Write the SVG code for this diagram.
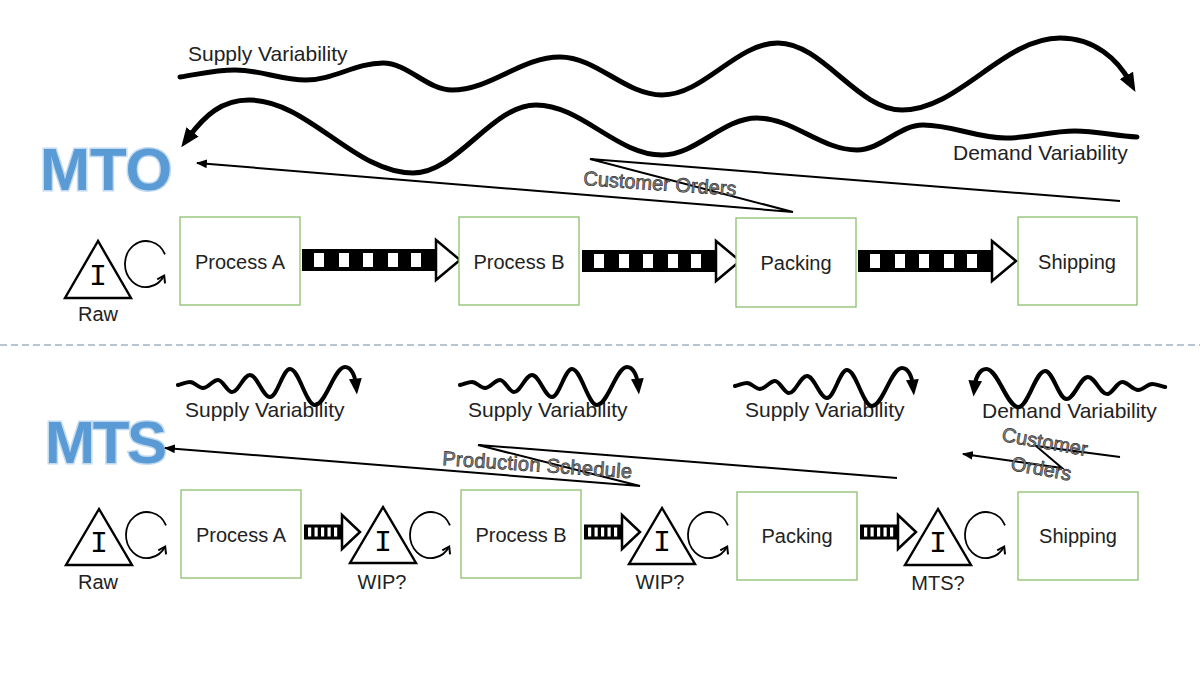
<svg xmlns="http://www.w3.org/2000/svg" width="1200" height="675" viewBox="0 0 1200 675">
<style>
.box{fill:#fff;stroke:#8cbf6e;stroke-width:1.3}
.lbl{font-family:"Liberation Sans",Arial,sans-serif;font-size:20px;fill:#222}
.var{font-family:"Liberation Sans",Arial,sans-serif;font-size:21px;fill:#222}
.mid{text-anchor:middle}
.inv{fill:#fff;stroke:#000;stroke-width:2.4;stroke-linejoin:miter}
.imark{font-family:"Liberation Mono","DejaVu Sans Mono",monospace;font-size:30px;text-anchor:middle;fill:#000}
.loop{fill:none;stroke:#000;stroke-width:1.8;marker-end:url(#chev)}
.wave5{fill:none;stroke:#000;stroke-width:5;stroke-linecap:round;marker-end:url(#wh5)}
.wave4{fill:none;stroke:#000;stroke-width:4;stroke-linecap:round;marker-end:url(#wh4)}
.conn{fill:none;stroke:#000;stroke-width:2;marker-end:url(#lh)}
.ghost{font-family:"Liberation Sans",Arial,sans-serif;font-size:20px;fill:#8a8a8a;stroke:#333;stroke-width:0.7}
.title{font-family:"Liberation Sans",Arial,sans-serif;font-weight:bold;font-size:60px;fill:#5b9bd5;stroke:#c2dbf1;stroke-width:3;paint-order:stroke}
</style>
<defs>
<marker id="wh5" markerUnits="userSpaceOnUse" markerWidth="19" markerHeight="19" viewBox="0 0 10 10" refX="4" refY="5" orient="auto"><path d="M0,1 L10,5 L0,9 z" fill="#000"/></marker>
<marker id="wh4" markerUnits="userSpaceOnUse" markerWidth="16" markerHeight="16" viewBox="0 0 10 10" refX="4" refY="5" orient="auto"><path d="M0,1 L10,5 L0,9 z" fill="#000"/></marker>
<marker id="lh" markerUnits="userSpaceOnUse" markerWidth="11" markerHeight="9" viewBox="0 0 10 8" refX="9" refY="4" orient="auto"><path d="M0,0 L10,4 L0,8 z" fill="#000"/></marker>
<marker id="chev" markerUnits="userSpaceOnUse" markerWidth="11" markerHeight="11" viewBox="0 0 10 10" refX="8" refY="5" orient="auto"><path d="M2,1 L8,5 L2,9" fill="none" stroke="#000" stroke-width="1.8"/></marker>
<g id="bigArrow">
<polygon points="134,-11 134,-20 158,0 134,20 134,11" fill="#fff" stroke="#000" stroke-width="2.5"/>
<rect x="0" y="-11" width="135" height="22" fill="#000"/>
<rect x="12" y="-7" width="10" height="14" fill="#fff"/>
<rect x="37" y="-7" width="10" height="14" fill="#fff"/>
<rect x="61" y="-7" width="10" height="14" fill="#fff"/>
<rect x="86" y="-7" width="10" height="14" fill="#fff"/>
<rect x="109" y="-7" width="10" height="14" fill="#fff"/>
</g>
<g id="smallArrow">
<polygon points="38,-7.5 38,-17 56,0 38,17 38,7.5" fill="#fff" stroke="#000" stroke-width="2.5"/>
<rect x="0" y="-7.5" width="39" height="15" fill="#000"/>
<rect x="4" y="-4.5" width="3.2" height="9" fill="#fff"/>
<rect x="10.5" y="-4.5" width="3.2" height="9" fill="#fff"/>
<rect x="17" y="-4.5" width="3.2" height="9" fill="#fff"/>
<rect x="23.5" y="-4.5" width="3.2" height="9" fill="#fff"/>
<rect x="30" y="-4.5" width="3.2" height="9" fill="#fff"/>
</g>
<path id="smallWave" d="M0,0 C5,-1 8,-3 12,-3 C16.7,-3 20.3,3 25,3 C30.4,3 34.6,-5 40,-5 C45,-5 49,7 54,7 C60.5,7 65.5,-10 72,-10 C79.2,-10 84.8,12 92,12 C99.2,12 104.8,-16 112,-16 C121,-16 128,20 137,20 C147.8,20 156.2,-18 167,-18 C173,-18 177,-10 178,0"/>
</defs>
<rect width="1200" height="675" fill="#fff"/>

<line id="divider" x1="0" y1="345" x2="1200" y2="345" stroke="#6f8ca6" stroke-width="1.2" stroke-dasharray="7,4"/>

<g id="titles">
<text class="title" x="40" y="190">MTO</text>
<text class="title" x="45" y="463" textLength="122">MTS</text>
</g>

<g id="variability-labels">
<text class="var" x="188" y="61">Supply Variability</text>
<text class="var" x="953" y="160">Demand Variability</text>
<text class="var" x="185" y="417">Supply Variability</text>
<text class="var" x="468" y="417">Supply Variability</text>
<text class="var" x="745" y="417">Supply Variability</text>
<text class="var" x="982" y="418">Demand Variability</text>
</g>

<g id="connectors">
<path class="wave5" d="M180,77 C200,74 215,70 235,70 C260.6,70 280.4,80 306,80 C333.7,80 355.3,63 383,63 C407.8,63 427.2,90 452,90 C490.9,90 521.1,57 560,57 C596.7,57 625.3,95 662,95 C703.8,95 736.2,43 778,43 C822.6,43 857.4,110 902,110 C958.9,110 1003.1,38 1060,38 C1095,38 1118,60 1130,82"/>
<path class="wave5" d="M1137,137 C1115,136 1097,131 1075,131 C1050.2,131 1030.8,138 1006,138 C976.1,138 952.9,125 923,125 C899.2,125 880.8,150 857,150 C821,150 793,118 757,118 C722.8,118 696.2,155 662,155 C616.6,155 581.4,105 536,105 C491.7,105 457.3,173 413,173 C354,173 308,100 249,100 C222,100 205,115 188,138"/>
<use href="#smallWave" class="wave4" transform="translate(178,385)"/>
<use href="#smallWave" class="wave4" transform="translate(460,385)"/>
<use href="#smallWave" class="wave4" transform="translate(735,386)"/>
<use href="#smallWave" class="wave4" transform="translate(1165,387) scale(-1.07,1)"/>
<path class="conn" d="M1120,201 L590,159 L793,212 L197,163"/>
<path class="conn" d="M897,478 L478,445 L640,486 L165,448"/>
<path class="conn" d="M1120,457 L1036,446 L1062,468 L963,454"/>
<use href="#bigArrow" transform="translate(302,260)"/>
<use href="#bigArrow" transform="translate(582,261)"/>
<use href="#bigArrow" transform="translate(858,261)"/>
<use href="#smallArrow" transform="translate(304,532)"/>
<use href="#smallArrow" transform="translate(584,532)"/>
<use href="#smallArrow" transform="translate(860,532)"/>
</g>

<g id="connector-labels">
<text class="ghost" x="583" y="185" transform="rotate(4 583 185)">Customer Orders</text>
<text class="ghost" x="442" y="465" font-size="21" textLength="190" transform="rotate(4 442 465)">Production Schedule</text>
<text class="ghost" x="1001" y="441" font-size="19.5" transform="rotate(10 1001 441)">Customer</text>
<text class="ghost" x="1010" y="470" font-size="19.5" transform="rotate(10 1010 470)">Orders</text>
</g>

<g id="mto-raw">
<polygon class="inv" points="98,241 65,298 131,298"/>
<text class="imark" x="98" y="285">I</text>
<path class="loop" d="M165,254.3 A21,23 0 1 0 164.2,275.5"/>
<text class="lbl mid" x="98" y="321">Raw</text>
</g>
<g id="mto-process-a"><rect class="box" x="180" y="217" width="120" height="88"/><text class="lbl mid" x="240" y="269">Process A</text></g>
<g id="mto-process-b"><rect class="box" x="459" y="217" width="120" height="88"/><text class="lbl mid" x="519" y="269">Process B</text></g>
<g id="mto-packing"><rect class="box" x="736" y="218" width="120" height="89"/><text class="lbl mid" x="796" y="270">Packing</text></g>
<g id="mto-shipping"><rect class="box" x="1018" y="217" width="119" height="88"/><text class="lbl mid" x="1077" y="269">Shipping</text></g>

<g id="mts-raw">
<polygon class="inv" points="99,509 66,565 132,565"/>
<text class="imark" x="99" y="552">I</text>
<path class="loop" d="M166,525.3 A21,23 0 1 0 165.2,546.5"/>
<text class="lbl mid" x="98" y="589">Raw</text>
</g>
<g id="mts-process-a"><rect class="box" x="181" y="490" width="120" height="88"/><text class="lbl mid" x="241" y="542">Process A</text></g>
<g id="mts-wip-1">
<polygon class="inv" points="383,507 350,563 416,563"/>
<text class="imark" x="383" y="551">I</text>
<path class="loop" d="M450,525.3 A21,23 0 1 0 449.2,546.5"/>
<text class="lbl mid" x="382" y="589">WIP?</text>
</g>
<g id="mts-process-b"><rect class="box" x="461" y="490" width="120" height="88"/><text class="lbl mid" x="521" y="542">Process B</text></g>
<g id="mts-wip-2">
<polygon class="inv" points="662,508 629,564 695,564"/>
<text class="imark" x="662" y="551">I</text>
<path class="loop" d="M728,525.3 A21,23 0 1 0 727.2,546.5"/>
<text class="lbl mid" x="660" y="589">WIP?</text>
</g>
<g id="mts-packing"><rect class="box" x="737" y="492" width="120" height="88"/><text class="lbl mid" x="797" y="543">Packing</text></g>
<g id="mts-fg">
<polygon class="inv" points="938,509 905,565 971,565"/>
<text class="imark" x="938" y="552">I</text>
<path class="loop" d="M1005,525.3 A21,23 0 1 0 1004.2,546.5"/>
<text class="lbl mid" x="938" y="590">MTS?</text>
</g>
<g id="mts-shipping"><rect class="box" x="1018" y="492" width="120" height="88"/><text class="lbl mid" x="1078" y="543">Shipping</text></g>
</svg>
